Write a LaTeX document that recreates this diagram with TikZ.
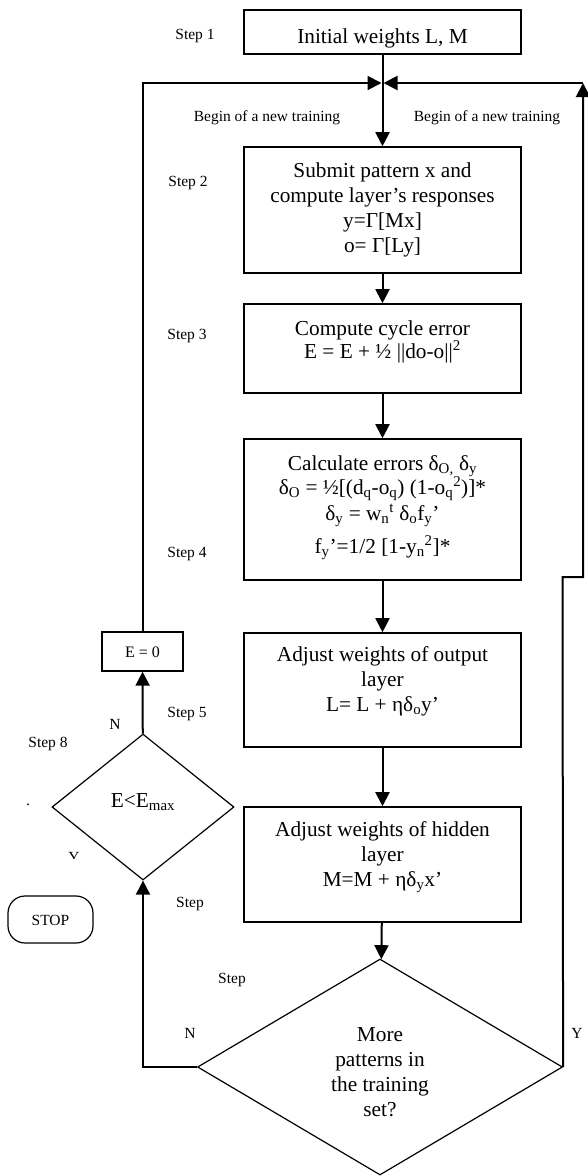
\documentclass[tikz,border=0pt]{standalone}
\usepackage{fontspec}
\setmainfont{Liberation Serif}
\usetikzlibrary{shapes.geometric,arrows.meta}
\begin{document}
\begin{tikzpicture}[x=1pt,y=-1pt,
  conn/.style={line width=2pt},
  arr/.style={conn,-{Triangle[length=14pt,width=14pt]}},
  box/.style={draw,line width=1.6pt,inner sep=0pt,minimum width=277pt},
  dia/.style={draw,diamond,line width=1.2pt,inner sep=0pt},
  maintxt/.style={font=\fontsize{21.3}{25}\selectfont,align=center,inner sep=0pt},
  smalltxt/.style={font=\fontsize{15.5}{18}\selectfont,inner sep=0pt},
  stopbox/.style={draw,line width=1.2pt,rounded corners=17pt,inner sep=0pt,minimum width=85pt,minimum height=47pt}]
\useasboundingbox (0,0) rectangle (587,1176);

% boxes
\node[box,minimum height=44pt]  (b1) at (382.5,32) {};
\node[box,minimum height=126pt] (b2) at (382.5,210) {};
\node[box,minimum height=89pt]  (b3) at (382.5,348.5) {};
\node[box,minimum height=141pt] (b4) at (382.5,509.5) {};
\node[box,minimum height=114pt] (b5) at (382.5,690) {};
\node[box,minimum height=115pt] (b6) at (382.5,864.5) {};
\node[draw,line width=1.4pt,inner sep=0pt,minimum width=81pt,minimum height=39pt] (e0) at (142.5,651.5) {};
\node[dia,minimum width=182pt,minimum height=146pt] (d1) at (143,807) {};
\node[dia,minimum width=365pt,minimum height=216pt] (d2) at (380,1067) {};
\node[stopbox] (stop) at (50.5,919.5) {};

% texts
\node[maintxt] (t1) at (382.5,38) {Initial weights L, M};
\node[maintxt] (t2) at (382.5,210) {Submit pattern x and\\compute layer’s responses\\y=Γ[Mx]\\o= Γ[Ly]};
\node[maintxt] (t3) at (382.5,341.5) {Compute cycle error\\[-2pt]E = E + ½ ||do-o||\textsuperscript{2}};
\node[maintxt] (t4) at (382.5,507.5) {Calculate errors δ\textsubscript{O,} δ\textsubscript{y}\\[-1pt]δ\textsubscript{O} = ½[(d\textsubscript{q}-o\textsubscript{q}) (1-o\textsubscript{q}\textsuperscript{2})]*\\[1pt]δ\textsubscript{y} = w\textsubscript{n}\textsuperscript{t} δ\textsubscript{o}f\textsubscript{y}’\\[8pt]f\textsubscript{y}’=1/2 [1-y\textsubscript{n}\textsuperscript{2}]*};
\node[maintxt] (t5) at (382.5,681) {Adjust weights of output\\layer\\L= L + ηδ\textsubscript{o}y’};
\node[maintxt] (t6) at (382.5,857) {Adjust weights of hidden\\layer\\M=M + ηδ\textsubscript{y}x’};
\node[maintxt] (td1) at (143,802.5) {E<E\textsubscript{max}};
\node[maintxt] (td2) at (380,1072.5) {More\\patterns in\\the training\\set?};
\node[font=\fontsize{16}{19}\selectfont,inner sep=0pt] (te0) at (142.5,652) {E = 0};
\node[smalltxt] (tstop) at (50.5,920) {STOP};

% side labels
\node[smalltxt] (s1) at (195,36) {Step 1};
\node[smalltxt] (s2) at (188,183) {Step 2};
\node[smalltxt] (s3) at (187,336) {Step 3};
\node[smalltxt] (s4) at (187,554) {Step 4};
\node[smalltxt] (s5) at (187,714) {Step 5};
\node[smalltxt] (s8) at (48,744) {Step 8};
\node[smalltxt] (s6) at (190,904) {Step};
\node[smalltxt] (s7) at (232,980) {Step};
\node[smalltxt] (bl) at (267,118) {Begin of a new training};
\node[smalltxt] (br) at (487,118) {Begin of a new training};
\node[smalltxt] (n1) at (115,724) {N};
\node[smalltxt] (n2) at (190,1033) {N};
\node[smalltxt] (y2) at (577,1033) {Y};
\node[smalltxt] (dot) at (28,805) {.};
\begin{scope}
  \clip (60,845) rectangle (90,858.5);
  \node[smalltxt] (y1) at (74,857) {Y};
\end{scope}

% coordinates
\coordinate (j) at (382.5,83);
\coordinate (rtop) at (583,83);
\coordinate (rs1) at (562.5,577);
\coordinate (rs2) at (583,577);

% connectors
\draw[arr] (b1) -- (b2);
\draw[arr] (b2) -- (b3);
\draw[arr] (b3) -- (b4);
\draw[arr] (b4) -- (b5);
\draw[arr] (b5) -- (b6);
\draw[arr] (b6) -- (d2);
\draw[arr] (d1) -- (e0);
\draw[arr,shorten >=1pt] (e0.north) |- (j);
\draw[arr] (d2.west) -| (d1.south);
\draw[arr] (d2.east) -- (rs1) -- (rs2) -- (rtop);
\draw[arr,shorten >=1pt] (rtop) -- (j);
\end{tikzpicture}
\end{document}
